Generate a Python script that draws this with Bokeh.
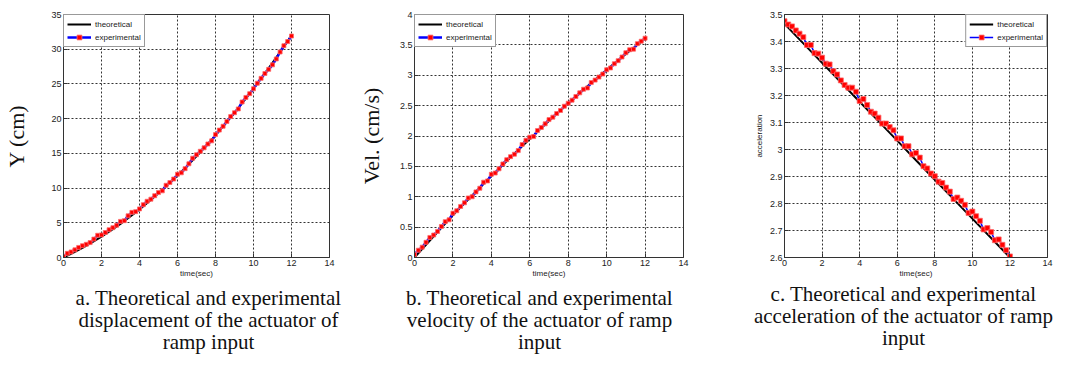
from bokeh.plotting import figure
from bokeh.layouts import row, column
from bokeh.models import Range1d, FixedTicker, CustomJSTickFormatter, Legend, LegendItem
from bokeh.embed import file_html
from bokeh.resources import INLINE
from bokeh.core.properties import value

# ---------------- data ----------------
time_exp = [0.0, 0.2, 0.4, 0.6, 0.8, 1.0, 1.2, 1.4, 1.6, 1.8, 2.0, 2.2, 2.4, 2.6, 2.8,
            3.0, 3.2, 3.4, 3.6, 3.8, 4.0, 4.2, 4.4, 4.6, 4.8, 5.0, 5.2, 5.4, 5.6, 5.8,
            6.0, 6.2, 6.4, 6.6, 6.8, 7.0, 7.2, 7.4, 7.6, 7.8, 8.0, 8.2, 8.4, 8.6, 8.8,
            9.0, 9.2, 9.4, 9.6, 9.8, 10.0, 10.2, 10.4, 10.6, 10.8, 11.0, 11.2, 11.4,
            11.6, 11.8, 12.0]

disp_exp = [0.15, 0.6, 0.8, 1.1, 1.45, 1.7, 1.9, 2.15, 2.65, 3.2, 3.25, 3.6, 4.0, 4.3, 4.65,
            5.2, 5.3, 6.0, 6.5, 6.6, 7.0, 7.6, 8.1, 8.4, 8.9, 9.35, 9.6, 10.4, 10.8, 11.3,
            12.0, 12.2, 12.8, 13.5, 14.3, 14.8, 15.3, 15.8, 16.35, 16.8, 17.7, 18.35, 18.9,
            19.6, 20.3, 20.85, 21.4, 22.4, 23.05, 23.6, 24.3, 25.1, 25.8, 26.5, 27.1, 27.75,
            28.6, 29.6, 30.5, 31.1, 31.9]

vel_exp = [0.05, 0.12, 0.17, 0.25, 0.33, 0.37, 0.43, 0.51, 0.59, 0.62, 0.73, 0.77, 0.84, 0.9,
           0.98, 1.0, 1.08, 1.14, 1.24, 1.26, 1.37, 1.39, 1.46, 1.54, 1.61, 1.66, 1.70, 1.76,
           1.86, 1.93, 1.98, 1.99, 2.09, 2.14, 2.2, 2.27, 2.31, 2.37, 2.42, 2.49, 2.54, 2.59,
           2.65, 2.71, 2.77, 2.79, 2.88, 2.92, 2.97, 3.02, 3.09, 3.12, 3.19, 3.24, 3.3, 3.37,
           3.42, 3.43, 3.52, 3.56, 3.61]

acc_exp = [3.475, 3.463, 3.456, 3.441, 3.429, 3.416, 3.387, 3.387, 3.357, 3.355, 3.34, 3.318,
           3.315, 3.29, 3.278, 3.256, 3.239, 3.229, 3.229, 3.214, 3.18, 3.187, 3.165, 3.14,
           3.133, 3.118, 3.096, 3.096, 3.083, 3.071, 3.041, 3.041, 3.012, 3.012, 2.982, 2.987,
           2.97, 2.938, 2.93, 2.911, 2.901, 2.881, 2.876, 2.859, 2.844, 2.817, 2.822, 2.81,
           2.795, 2.765, 2.77, 2.753, 2.736, 2.704, 2.709, 2.694, 2.664, 2.667, 2.647, 2.627,
           2.604]

time_theory_half = [0.0, 0.5, 1.0, 1.5, 2.0, 2.5, 3.0, 3.5, 4.0, 4.5, 5.0, 5.5, 6.0, 6.5, 7.0,
                    7.5, 8.0, 8.5, 9.0, 9.5, 10.0, 10.5, 11.0, 11.5, 12.0]
disp_theory = [0.0, 0.66, 1.38, 2.16, 3.0, 3.9, 4.85, 5.86, 6.93, 8.06, 9.25, 10.5, 11.8, 13.16,
               14.59, 16.06, 17.6, 19.2, 20.85, 22.56, 24.34, 26.17, 28.05, 30.0, 32.0]

time_theory = [0, 1, 2, 3, 4, 5, 6, 7, 8, 9, 10, 11, 12]
vel_theory = [0.0, 0.35, 0.70, 1.02, 1.34, 1.65, 1.95, 2.25, 2.54, 2.82, 3.09, 3.35, 3.6]
acc_theory = [3.465, 3.393, 3.321, 3.249, 3.177, 3.105, 3.033, 2.960, 2.888, 2.816, 2.744,
              2.672, 2.600]

x_ticks = [0, 2, 4, 6, 8, 10, 12, 14]
disp_ticks = [0, 5, 10, 15, 20, 25, 30, 35]
vel_ticks = [0, 0.5, 1, 1.5, 2, 2.5, 3, 3.5, 4]
acc_ticks = [2.6, 2.7, 2.8, 2.9, 3.0, 3.1, 3.2, 3.3, 3.4, 3.5]

x_label = "time(sec)"
legend_labels = ["theoretical", "experimental"]
captions = [
    ["a. Theoretical and experimental", "displacement of the actuator of", "ramp input"],
    ["b. Theoretical and experimental", "velocity of the actuator of ramp", "input"],
    ["c. Theoretical and experimental", "acceleration of the actuator of ramp", "input"],
]

TICK_FONT = "Liberation Sans"
DARK = "#333333"
ROW_H = 280


def make_panel(t_th, y_th, y_exp, y_range, y_ticks, y_label, y_label_font, y_label_size,
               y_label_standoff, legend_loc, fw, borders, marker_size, blue_width):
    left, right, top = borders
    p = figure(frame_width=fw, frame_height=243,
               min_border_left=left, min_border_right=right,
               min_border_top=top, min_border_bottom=ROW_H - top - 243,
               x_range=Range1d(0, 14), y_range=Range1d(*y_range),
               toolbar_location=None, output_backend="svg",
               background_fill_color="white", border_fill_color="white")
    fmt = CustomJSTickFormatter(code="return String(tick);")
    p.xaxis.ticker = FixedTicker(ticks=x_ticks)
    p.yaxis.ticker = FixedTicker(ticks=y_ticks)
    p.xaxis.formatter = fmt
    p.yaxis.formatter = fmt
    for ax in (p.xaxis[0], p.yaxis[0]):
        ax.major_tick_in = 4
        ax.major_tick_out = 0
        ax.minor_tick_in = 0
        ax.minor_tick_out = 0
        ax.major_tick_line_color = DARK
        ax.axis_line_color = DARK
        ax.major_label_text_font = TICK_FONT
        ax.major_label_text_font_size = "9px"
        ax.major_label_text_color = "#222222"
        ax.major_label_standoff = 2
    p.xaxis.axis_label = x_label
    p.xaxis.axis_label_text_font = TICK_FONT
    p.xaxis.axis_label_text_font_size = "8px"
    p.xaxis.axis_label_text_font_style = "normal"
    p.xaxis.axis_label_text_color = "#222222"
    p.xaxis.axis_label_standoff = 0
    p.yaxis.axis_label = y_label
    p.yaxis.axis_label_text_font = y_label_font
    p.yaxis.axis_label_text_font_size = y_label_size
    p.yaxis.axis_label_text_font_style = "normal"
    p.yaxis.axis_label_text_color = "#111111"
    p.yaxis.axis_label_standoff = y_label_standoff
    p.outline_line_color = DARK
    p.outline_line_alpha = 1
    p.xgrid.ticker = FixedTicker(ticks=x_ticks)
    p.ygrid.ticker = FixedTicker(ticks=y_ticks)
    for g in (p.xgrid[0], p.ygrid[0]):
        g.grid_line_color = "#333333"
        g.grid_line_dash = "2 2"
        g.grid_line_width = 1

    r_th = p.line(t_th, y_th, line_color="black", line_width=2)
    r_exp = p.line(time_exp, y_exp, line_color="#0000ff", line_width=blue_width)
    r_mk = p.scatter(time_exp, y_exp, marker="square", size=marker_size,
                     fill_color="#ff0000", line_color="#ff6a6a", line_width=0.8)

    legend = Legend(items=[LegendItem(label=legend_labels[0], renderers=[r_th]),
                           LegendItem(label=legend_labels[1], renderers=[r_exp, r_mk])],
                    location=legend_loc)
    legend.margin = 0
    legend.padding = 3
    legend.spacing = 1
    legend.glyph_width = 24
    legend.glyph_height = 12
    legend.label_height = 12
    legend.label_standoff = 4
    legend.label_text_font = TICK_FONT
    legend.label_text_font_size = "8px"
    legend.label_text_color = "#222222"
    legend.border_line_color = DARK
    legend.border_line_width = 1
    legend.background_fill_color = "white"
    legend.background_fill_alpha = 1
    p.add_layout(legend)
    return p


# page has no body margin in Bokeh's template, so borders include the offset
p1 = make_panel(time_theory_half, disp_theory, disp_exp, (0, 35), disp_ticks, "Y (cm)",
                "Liberation Serif", "22px", 19, "top_left", 266, (63, 26, 12), 4, 2.5)
p2 = make_panel(time_theory, vel_theory, vel_exp, (0, 4), vel_ticks, "Vel. (cm/s)",
                "Liberation Serif", "22px", 13, "top_left", 269, (54, 37, 14), 4, 2.5)
p3 = make_panel(time_theory, acc_theory, acc_exp, (2.6, 3.5), acc_ticks, "acceleration",
                TICK_FONT, "8px", 3, "top_right", 263, (64, 25, 13), 5, 1.5)

# caption strip
CAP_H = 365 - ROW_H
pc = figure(width=1067, height=CAP_H, x_range=Range1d(0, 1067), y_range=Range1d(365, ROW_H),
            x_axis_type=None, y_axis_type=None, min_border=0,
            toolbar_location=None, output_backend="svg", outline_line_color=None)
pc.xgrid.visible = False
pc.ygrid.visible = False
cap_centers = [208, 539, 903]
cap_tops = [297, 297, 293]
line_gap = 22
cx, cy, ct = [], [], []
for lines, xc, yt in zip(captions, cap_centers, cap_tops):
    for i, s in enumerate(lines):
        cx.append(xc)
        cy.append(yt + i * line_gap)
        ct.append(s)
pc.text(x=cx, y=cy, text=ct, text_font=value("Liberation Serif"), text_font_size="21px",
        text_align="center", text_baseline="middle", text_color="#111111")

layout = column(row(p1, p2, p3), pc)
open("out.html", "w").write(file_html(layout, INLINE))
